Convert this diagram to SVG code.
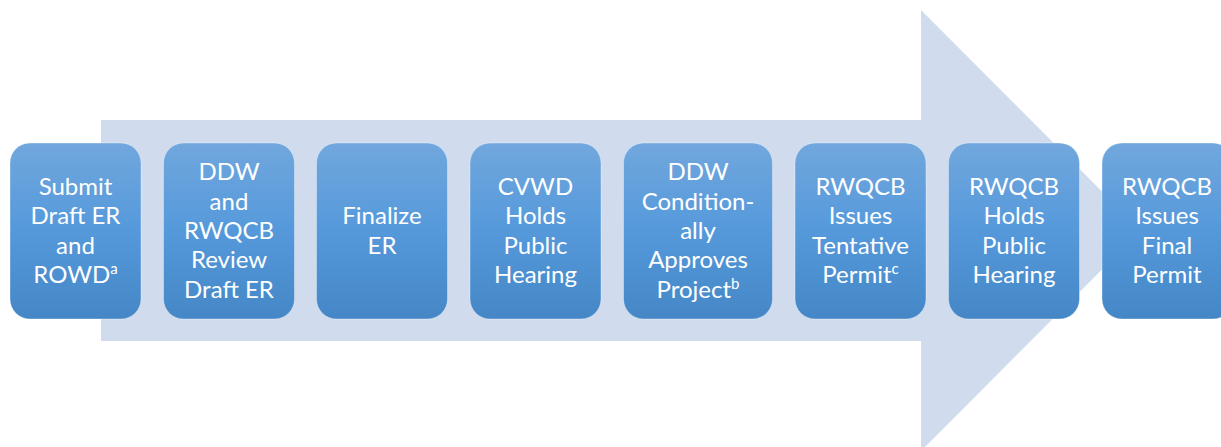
<svg xmlns="http://www.w3.org/2000/svg" width="1221" height="447" viewBox="0 0 1221 447">
<defs>
<linearGradient id="g" x1="0" y1="0" x2="0" y2="1">
<stop offset="0" stop-color="#71A7DD"/>
<stop offset="0.5" stop-color="#5599DB"/>
<stop offset="1" stop-color="#4587C6"/>
</linearGradient>
</defs>
<style>
.box{fill:url(#g);stroke:#ffffff;stroke-opacity:0.35;stroke-width:1}
.t{font-family:Lato,"Open Sans",sans-serif;font-size:24px;fill:#ffffff;text-anchor:middle}
.sup{font-size:15px}
</style>
<g id="bg-arrow">
<polygon points="101,120 921,120 921,10 1141,230.5 921,451 921,341 101,341" fill="#D0DCEE"/>
</g>
<g id="connectors"></g>
<g id="n1">
<rect class="box" x="10" y="143" width="131" height="176" rx="20"/>
<text class="t"><tspan x="75.5" y="195">Submit</tspan><tspan x="75.5" y="224.4">Draft ER</tspan><tspan x="75.5" y="253.7">and</tspan><tspan x="75.5" y="283">ROWD<tspan class="sup" dy="-9">a</tspan></tspan></text>
</g>
<g id="n2">
<rect class="box" x="163.5" y="143" width="131" height="176" rx="20"/>
<text class="t"><tspan x="229" y="180.4">DDW</tspan><tspan x="229" y="209.7">and</tspan><tspan x="229" y="239">RWQCB</tspan><tspan x="229" y="268.3">Review</tspan><tspan x="229" y="297.6">Draft ER</tspan></text>
</g>
<g id="n3">
<rect class="box" x="316.5" y="143" width="131" height="176" rx="20"/>
<text class="t"><tspan x="382" y="224.4">Finalize</tspan><tspan x="382" y="253.7">ER</tspan></text>
</g>
<g id="n4">
<rect class="box" x="470" y="143" width="131" height="176" rx="20"/>
<text class="t"><tspan x="535.5" y="195">CVWD</tspan><tspan x="535.5" y="224.4">Holds</tspan><tspan x="535.5" y="253.7">Public</tspan><tspan x="535.5" y="283">Hearing</tspan></text>
</g>
<g id="n5">
<rect class="box" x="623.5" y="143" width="149" height="176" rx="20"/>
<text class="t"><tspan x="698" y="180.4">DDW</tspan><tspan x="698" y="209.7">Condition-</tspan><tspan x="698" y="239">ally</tspan><tspan x="698" y="268.3">Approves</tspan><tspan x="698" y="297.6">Project<tspan class="sup" dy="-9">b</tspan></tspan></text>
</g>
<g id="n6">
<rect class="box" x="795" y="143" width="131" height="176" rx="20"/>
<text class="t"><tspan x="860.5" y="195">RWQCB</tspan><tspan x="860.5" y="224.4">Issues</tspan><tspan x="860.5" y="253.7">Tentative</tspan><tspan x="860.5" y="283">Permit<tspan class="sup" dy="-9">c</tspan></tspan></text>
</g>
<g id="n7">
<rect class="box" x="948.5" y="143" width="131" height="176" rx="20"/>
<text class="t"><tspan x="1014" y="195">RWQCB</tspan><tspan x="1014" y="224.4">Holds</tspan><tspan x="1014" y="253.7">Public</tspan><tspan x="1014" y="283">Hearing</tspan></text>
</g>
<g id="n8">
<rect class="box" x="1102" y="143" width="131" height="176" rx="20"/>
<text class="t"><tspan x="1167" y="195">RWQCB</tspan><tspan x="1167" y="224.4">Issues</tspan><tspan x="1167" y="253.7">Final</tspan><tspan x="1167" y="283">Permit</tspan></text>
</g>
</svg>
